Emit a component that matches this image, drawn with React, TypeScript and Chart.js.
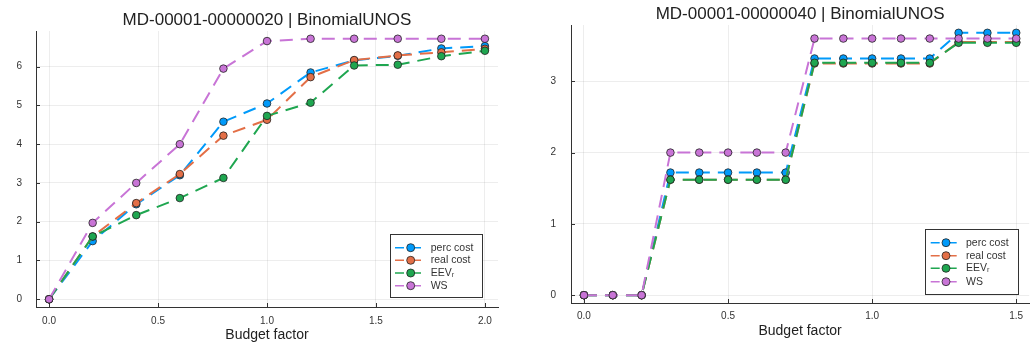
import React, { useEffect, useRef } from "react";
import { Chart, registerables } from "chart.js";

Chart.register(...registerables);

const FONT = "'Liberation Sans', Arial, Helvetica, sans-serif";

// ---------- data ----------
const seriesNames = ["perc cost", "real cost", "EEVᵣ", "WS"];
const seriesColors = ["#009AFA", "#E36F47", "#1FA650", "#C874D6"];

const xLeft = [0, 0.2, 0.4, 0.6, 0.8, 1.0, 1.2, 1.4, 1.6, 1.8, 2.0];
const percLeft = [0, 1.5, 2.45, 3.2, 4.58, 5.05, 5.85, 6.16, 6.28, 6.47, 6.53];
const realLeft = [0, 1.62, 2.48, 3.23, 4.22, 4.63, 5.73, 6.17, 6.29, 6.37, 6.46];
const eevLeft = [0, 1.62, 2.17, 2.61, 3.13, 4.73, 5.07, 6.03, 6.05, 6.27, 6.41];
const wsLeft = [0, 1.97, 3.0, 4.0, 5.95, 6.66, 6.72, 6.72, 6.72, 6.72, 6.72];

const xRight = [0, 0.1, 0.2, 0.3, 0.4, 0.5, 0.6, 0.7, 0.8, 0.9, 1.0, 1.1, 1.2, 1.3, 1.4, 1.5];
const percRight = [0, 0, 0, 1.72, 1.72, 1.72, 1.72, 1.72, 3.32, 3.32, 3.32, 3.32, 3.32, 3.68, 3.68, 3.68];
const realRight = [0, 0, 0, 1.62, 1.62, 1.62, 1.62, 1.62, 3.25, 3.25, 3.25, 3.25, 3.25, 3.55, 3.55, 3.55];
const eevRight = [0, 0, 0, 1.62, 1.62, 1.62, 1.62, 1.62, 3.26, 3.26, 3.26, 3.26, 3.26, 3.54, 3.54, 3.54];
const wsRight = [0, 0, 0, 2.0, 2.0, 2.0, 2.0, 2.0, 3.6, 3.6, 3.6, 3.6, 3.6, 3.6, 3.6, 3.6];

const titleLeft = "MD-00001-00000020 | BinomialUNOS";
const titleRight = "MD-00001-00000040 | BinomialUNOS";
const xAxisTitle = "Budget factor";

const xTicksLeft = [0, 0.5, 1.0, 1.5, 2.0];
const yTicksLeft = [0, 1, 2, 3, 4, 5, 6];
const xTicksRight = [0, 0.5, 1.0, 1.5];
const yTicksRight = [0, 1, 2, 3];

const DASH = [13, 8];

// ---------- plugins ----------
const innerTicks = {
  id: "innerTicks",
  beforeDatasetsDraw(chart: any) {
    const { ctx, chartArea } = chart;
    const xs = chart.scales.x;
    const ys = chart.scales.y;
    ctx.save();
    ctx.strokeStyle = "#333";
    ctx.lineWidth = 1;
    ctx.beginPath();
    xs.ticks.forEach((t: any) => {
      const px = Math.round(xs.getPixelForValue(t.value)) + 0.5;
      ctx.moveTo(px, chartArea.bottom);
      ctx.lineTo(px, chartArea.bottom - 4);
    });
    ys.ticks.forEach((t: any) => {
      const py = Math.round(ys.getPixelForValue(t.value)) + 0.5;
      ctx.moveTo(chartArea.left, py);
      ctx.lineTo(chartArea.left + 4, py);
    });
    ctx.stroke();
    ctx.restore();
  },
};

const customLegend = {
  id: "customLegend",
  afterDraw(chart: any, _args: any, opts: any) {
    const { ctx } = chart;
    const { box, rows, lineX, markerX, textX } = opts;
    ctx.save();
    ctx.fillStyle = "#fff";
    ctx.fillRect(box[0], box[1], box[2] - box[0], box[3] - box[1]);
    ctx.strokeStyle = "#333";
    ctx.lineWidth = 1;
    ctx.strokeRect(Math.round(box[0]) + 0.5, Math.round(box[1]) + 0.5, Math.round(box[2] - box[0]), Math.round(box[3] - box[1]));
    chart.data.datasets.forEach((ds: any, i: number) => {
      const y = rows[i];
      ctx.strokeStyle = ds.borderColor;
      ctx.lineWidth = 1.5;
      ctx.setLineDash([9, 8]);
      ctx.beginPath();
      ctx.moveTo(lineX[0], y);
      ctx.lineTo(lineX[1], y);
      ctx.stroke();
      ctx.setLineDash([]);
      ctx.beginPath();
      ctx.arc(markerX, y, 4, 0, Math.PI * 2);
      ctx.fillStyle = ds.pointBackgroundColor;
      ctx.fill();
      ctx.strokeStyle = "#222";
      ctx.lineWidth = 0.8;
      ctx.stroke();
      ctx.fillStyle = "#333";
      ctx.font = `10.5px ${FONT}`;
      ctx.textAlign = "left";
      ctx.textBaseline = "middle";
      ctx.fillText(ds.label, textX, y);
    });
    ctx.restore();
  },
};

type Cfg = {
  xs: number[];
  series: number[][];
  title: string;
  xMin: number;
  xMax: number;
  yMin: number;
  yMax: number;
  xTicks: number[];
  yTicks: number[];
  yWidth: number;
  xHeight: number;
  padRight: number;
  titlePadTop: number;
  titlePadBottom: number;
  xTickPad: number;
  yTickPad: number;
  xTitlePadBottom: number;
  legend: any;
};

function buildConfig(c: Cfg): any {
  const datasets = c.series.map((vals, i) => ({
    label: seriesNames[i],
    data: c.xs.map((x, j) => ({ x, y: vals[j] })),
    borderColor: seriesColors[i],
    backgroundColor: seriesColors[i],
    pointBackgroundColor: seriesColors[i],
    pointBorderColor: "#222",
    pointBorderWidth: 0.8,
    pointRadius: 3.8,
    borderWidth: 2,
    borderDash: DASH,
    tension: 0,
    order: 4 - i,
  }));
  return {
    type: "line",
    data: { datasets },
    plugins: [innerTicks, customLegend],
    options: {
      animation: false,
      responsive: false,
      maintainAspectRatio: false,
      layout: { padding: { left: 0, right: c.padRight, top: 0, bottom: 0 } },
      plugins: {
        legend: { display: false },
        tooltip: { enabled: false },
        title: {
          display: true,
          text: c.title,
          fullSize: false,
          color: "#222",
          font: { family: FONT, size: 17, weight: "normal" },
          padding: { top: c.titlePadTop, bottom: c.titlePadBottom },
        },
        customLegend: c.legend,
      },
      scales: {
        x: {
          type: "linear",
          min: c.xMin,
          max: c.xMax,
          afterBuildTicks: (s: any) => {
            s.ticks = c.xTicks.map((v) => ({ value: v }));
          },
          afterFit: (s: any) => {
            s.height = c.xHeight;
          },
          ticks: {
            callback: (v: any) => Number(v).toFixed(1),
            color: "#333",
            font: { family: FONT, size: 10 },
            padding: c.xTickPad,
            maxRotation: 0,
            autoSkip: false,
          },
          grid: { color: "rgba(0,0,0,0.07)", drawTicks: false },
          border: { display: true, color: "#333", width: 1 },
          title: {
            display: true,
            text: xAxisTitle,
            color: "#222",
            font: { family: FONT, size: 14 },
            padding: { top: 0, bottom: c.xTitlePadBottom },
          },
        },
        y: {
          type: "linear",
          min: c.yMin,
          max: c.yMax,
          afterBuildTicks: (s: any) => {
            s.ticks = c.yTicks.map((v) => ({ value: v }));
          },
          afterFit: (s: any) => {
            s.width = c.yWidth;
          },
          ticks: {
            callback: (v: any) => String(Math.round(Number(v))),
            color: "#333",
            font: { family: FONT, size: 10 },
            padding: c.yTickPad,
            autoSkip: false,
          },
          grid: { color: "rgba(0,0,0,0.07)", drawTicks: false },
          border: { display: true, color: "#333", width: 1 },
        },
      },
    },
  };
}

function ChartCanvas({ cfg, left, width }: { cfg: Cfg; left: number; width: number }) {
  const ref = useRef<HTMLCanvasElement | null>(null);
  useEffect(() => {
    if (!ref.current) return;
    const chart = new Chart(ref.current, buildConfig(cfg));
    return () => chart.destroy();
  }, []);
  return (
    <canvas
      ref={ref}
      width={width}
      height={349}
      style={{ position: "absolute", left, top: 0, width, height: 349 }}
    />
  );
}

const leftCfg: Cfg = {
  xs: xLeft,
  series: [percLeft, realLeft, eevLeft, wsLeft],
  title: titleLeft,
  xMin: -0.06,
  xMax: 2.06,
  yMin: -0.2,
  yMax: 6.92,
  xTicks: xTicksLeft,
  yTicks: yTicksLeft,
  yWidth: 36,
  xHeight: 42,
  padRight: 17,
  titlePadTop: 10,
  titlePadBottom: 0.6,
  xTickPad: 8,
  yTickPad: 14,
  xTitlePadBottom: 5.6,
  legend: {
    box: [390, 234, 482, 297],
    rows: [247.7, 260.3, 273, 285.7],
    lineX: [395, 425],
    markerX: 410.7,
    textX: 430.7,
  },
};

const rightCfg: Cfg = {
  xs: xRight,
  series: [percRight, realRight, eevRight, wsRight],
  title: titleRight,
  xMin: -0.045,
  xMax: 1.545,
  yMin: -0.11,
  yMax: 3.79,
  xTicks: xTicksRight,
  yTicks: yTicksRight,
  yWidth: 51,
  xHeight: 46,
  padRight: 0,
  titlePadTop: 4.3,
  titlePadBottom: 0.3,
  xTickPad: 7,
  yTickPad: 15,
  xTitlePadBottom: 9,
  legend: {
    box: [405, 229.3, 498.3, 294],
    rows: [242.7, 255.7, 268.3, 281.7],
    lineX: [410.7, 441.7],
    markerX: 426,
    textX: 446,
  },
};

export default function App() {
  return (
    <div
      style={{
        position: "fixed",
        left: 0,
        top: 0,
        width: 1030,
        height: 349,
        overflow: "hidden",
        background: "#fff",
      }}
    >
      <ChartCanvas cfg={leftCfg} left={0} width={515} />
      <ChartCanvas cfg={rightCfg} left={520} width={514} />
    </div>
  );
}
